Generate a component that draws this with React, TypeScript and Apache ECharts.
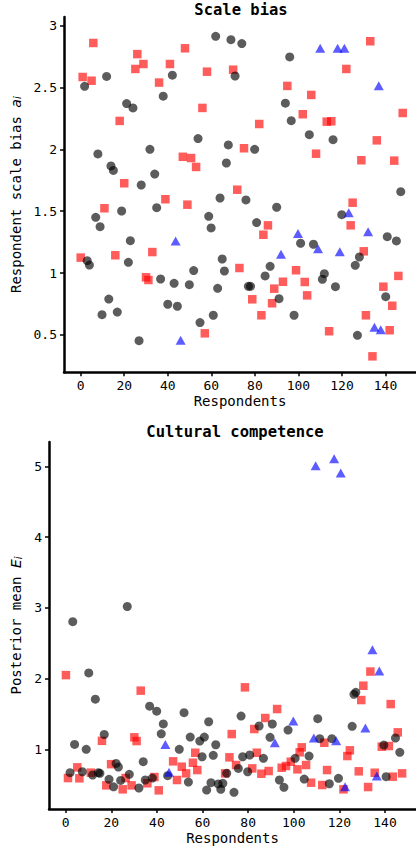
import React, { useEffect, useRef } from "react";
import * as echarts from "echarts";

// ---------- Data (x = respondent index, y = value) ----------
const topBlack: [number, number][] = [
  [1.8, 2.51], [3.0, 1.1], [4.0, 1.065], [6.9, 1.451], [7.9, 1.963], [8.9, 1.375], [9.8, 0.664],
  [11.9, 2.59], [12.9, 0.79], [13.9, 1.866], [15, 1.83], [16.8, 0.685], [18.8, 1.502], [21.1, 2.37],
  [21.9, 1.087], [22.8, 1.262], [24, 2.335], [26.8, 0.454], [27.8, 1.712], [31.8, 2.0], [34, 1.8],
  [34.9, 1.529], [36.7, 0.952], [37.9, 2.43], [40, 0.748], [42.1, 2.6], [42.9, 0.917], [44.4, 0.732],
  [49.9, 0.906], [51.9, 1.02], [53.9, 2.087], [54.8, 0.6], [58.8, 1.459], [59.9, 1.365], [60.9, 0.659],
  [62, 2.914], [62.9, 0.877], [64, 1.607], [65, 1.114], [66, 1.017], [66.9, 1.89], [67.8, 2.036],
  [69, 2.887], [70.9, 2.593], [74, 2.855], [75.9, 1.591], [77, 0.893], [78, 0.893], [79.9, 2.0],
  [80.8, 1.408], [84.7, 0.977], [87, 1.055], [90, 1.532], [91.1, 0.793], [94, 2.373], [96, 2.747],
  [96.7, 2.232], [98, 0.659], [101, 1.241], [105, 2.119], [106.9, 1.233], [111, 0.95], [111.9, 0.995],
  [115.9, 2.078], [117, 0.89], [119.9, 1.472], [126.1, 1.063], [127.1, 0.497], [128, 1.13],
  [140.1, 0.809], [140.8, 1.294], [145, 1.26], [147, 1.658],
];
const topRed: [number, number][] = [
  [0, 1.125], [0.9, 2.585], [5.0, 2.555], [5.8, 2.86], [10.9, 1.524], [15.9, 1.144], [17.9, 2.23],
  [20, 1.726], [25.1, 2.65], [26, 2.77], [28.8, 2.69], [30, 0.966], [31.1, 0.944], [32.9, 1.17],
  [36, 2.54], [38.9, 1.597], [41, 2.69], [46.9, 1.94], [47.9, 2.817], [49, 1.553], [50.7, 1.93],
  [53, 1.858], [55.9, 2.335], [57, 0.513], [58, 2.628], [70, 2.644], [71.9, 1.674], [72.9, 1.041],
  [75, 2.009], [78.8, 0.788], [82, 2.205], [83, 0.659], [83.9, 1.31], [86, 1.386], [87.9, 0.756],
  [88.9, 0.874], [92.9, 0.93], [94.9, 2.513], [98.9, 1.023], [102, 2.284], [102.9, 0.928], [104, 0.82],
  [105.9, 2.44], [108.1, 1.965], [113, 2.224], [114.1, 0.53], [115.1, 2.227], [122, 2.65], [124, 1.386],
  [124.9, 1.569], [128.9, 1.912], [130, 1.176], [131, 0.659], [133, 2.874], [134, 0.327], [136, 2.073],
  [139, 0.89], [141.9, 0.538], [143.1, 0.736], [144, 1.909], [145.9, 0.977], [147.9, 2.294],
];
const topBlue: [number, number][] = [
  [43.6, 1.26], [45.9, 0.457], [92, 1.152], [99.8, 1.32], [109, 1.197], [110, 2.817], [118, 2.817],
  [119, 1.173], [121.1, 2.817], [123.1, 1.488], [132, 1.335], [134.9, 0.562], [136.9, 2.515], [137.8, 0.542],
];

const botBlack: [number, number][] = [
  [1.9, 0.67], [3.1, 2.805], [3.9, 1.07], [7.3, 0.683], [9.0, 1.0], [10.1, 2.08], [11.8, 0.637], [13, 1.71],
  [14.3, 0.67], [15, 0.66], [16.9, 1.21], [19, 0.576], [21, 0.47], [22.1, 0.8], [23.1, 0.75], [24.1, 0.56],
  [27, 3.02], [27.9, 0.646], [32.1, 0.453], [34, 0.825], [34.9, 0.566], [36.8, 1.61], [38, 0.594],
  [39.9, 1.54], [41.9, 1.22], [42.8, 1.36], [44.7, 0.627], [49.8, 1.0], [51.9, 1.518], [53.8, 0.537],
  [54.6, 1.174], [58.8, 1.117], [59.8, 0.895], [60.8, 1.174], [61.8, 0.424], [62.7, 1.39], [63.7, 0.528],
  [64.7, 0.915], [65.8, 1.065], [66.9, 0.51], [68, 0.434], [68.9, 0.519], [70.6, 0.66], [73.8, 0.392],
  [75.7, 0.73], [76.9, 1.47], [77.6, 0.895], [79.8, 0.683], [80.7, 0.92], [84.8, 1.33], [86.7, 0.873],
  [89.6, 1.17], [90.6, 1.358], [93.7, 0.566], [95.7, 0.462], [97.5, 1.273], [100.6, 0.873], [104.6, 0.58],
  [106.7, 0.905], [110.5, 1.433], [111.4, 1.15], [115.6, 0.513], [116.7, 1.15], [119.6, 0.59],
  [125.6, 1.325], [126.4, 1.778], [127.2, 1.806], [139.5, 1.06], [140.5, 0.613], [144.6, 1.16], [146.5, 0.958],
];
const botRed: [number, number][] = [
  [0.1, 2.05], [1, 0.594], [5.1, 0.745], [6, 0.59], [11, 0.67], [15.9, 1.12], [17.8, 0.49], [19.9, 0.79],
  [25, 0.434], [26.3, 0.594], [28.9, 0.49], [30.1, 1.17], [31.1, 1.117], [32.9, 1.83], [35.8, 0.52],
  [38.9, 0.608], [40.8, 0.42], [47.1, 0.83], [48.8, 0.566], [50.9, 0.754], [52.8, 0.66], [55.8, 0.81],
  [56.8, 0.952], [57.7, 0.707], [69.9, 0.66], [71.8, 0.887], [72.8, 1.216], [74.7, 0.778], [78.6, 1.877],
  [81.8, 0.73], [82.7, 1.287], [83.8, 0.952], [85.8, 0.655], [87.5, 1.443], [89, 0.693], [92.7, 1.57],
  [94.7, 0.74], [96.6, 0.764], [98.7, 0.825], [101.6, 0.717], [102.6, 0.958], [103.5, 1.028],
  [105.4, 0.778], [107.6, 0.528], [112.5, 0.495], [113.4, 1.093], [114.6, 0.707], [121.8, 0.434],
  [123.5, 0.905], [124.6, 0.986], [128.5, 0.689], [129.6, 1.697], [130.5, 1.9], [132.6, 0.467],
  [133.6, 2.1], [135.5, 0.669], [138.6, 1.037], [141.7, 1.047], [142.5, 1.64], [143.4, 0.613],
  [145.6, 1.24], [147.5, 0.66],
];
const botBlue: [number, number][] = [
  [43.7, 1.07], [45.3, 0.675], [91.7, 1.093], [99.8, 1.4], [108.8, 1.16], [109.6, 5.01], [117.7, 5.11],
  [118.6, 1.12], [120.6, 4.91], [122.5, 0.47], [131.4, 1.3], [134.5, 2.41], [136.4, 0.622], [137.5, 2.108],
];

const xTicks = [0, 20, 40, 60, 80, 100, 120, 140];
const yTicksTop = [0.5, 1, 1.5, 2, 2.5, 3];
const yTicksBot = [1, 2, 3, 4, 5];

const MONO = "DejaVu Sans Mono";

function axisCommon(ticks: number[]) {
  return {
    type: "value" as const,
    axisLine: { show: true, onZero: false, lineStyle: { color: "#000", width: 2.5 } },
    axisTick: { show: true, length: 4, customValues: ticks, lineStyle: { color: "#000", width: 1.5 } },
    axisLabel: { show: true, customValues: ticks, color: "#000", fontFamily: MONO, fontSize: 13, margin: 7 },
    splitLine: { show: false },
  };
}

const nameRich = {
  n: { fontFamily: MONO, fontSize: 14, color: "#000" },
  m: { fontFamily: "DejaVu Sans", fontStyle: "italic" as const, fontSize: 14, color: "#000" },
  s: { fontFamily: "DejaVu Sans", fontStyle: "italic" as const, fontSize: 10, color: "#000", verticalAlign: "bottom" as const, lineHeight: 12 },
};

export default function App() {
  const ref = useRef<HTMLDivElement>(null);
  useEffect(() => {
    if (!ref.current) return;
    const chart = echarts.init(ref.current, null, { renderer: "svg" });
    const scatter = (data: [number, number][], idx: number, kind: string) => {
      const base: any = {
        type: "scatter",
        xAxisIndex: idx,
        yAxisIndex: idx,
        data,
        silent: true,
        emphasis: { disabled: true },
      };
      if (kind === "k") {
        base.symbol = "circle";
        base.symbolSize = 9;
        base.itemStyle = { color: "rgba(0,0,0,0.8)" };
      } else if (kind === "r") {
        base.symbol = "rect";
        base.symbolSize = 8.5;
        base.itemStyle = { color: "rgba(255,0,0,0.8)" };
      } else {
        base.symbol = "triangle";
        base.symbolSize = [10, 9];
        base.itemStyle = { color: "rgba(0,0,255,0.8)" };
      }
      return base;
    };
    chart.setOption({
      animation: false,
      grid: [
        { left: 64, top: 17, width: 352, height: 355.3 },
        { left: 49, top: 442, width: 367, height: 367 },
      ],
      xAxis: [
        {
          ...axisCommon(xTicks), gridIndex: 0, min: -7.67, max: 154,
          name: "Respondents", nameLocation: "middle", nameGap: 22,
          nameTextStyle: { fontFamily: MONO, fontSize: 14, color: "#000" },
        },
        {
          ...axisCommon(xTicks), gridIndex: 1, min: -7.32, max: 153.6,
          name: "Respondents", nameLocation: "middle", nameGap: 22,
          nameTextStyle: { fontFamily: MONO, fontSize: 14, color: "#000" },
        },
      ],
      yAxis: [
        {
          ...axisCommon(yTicksTop), gridIndex: 0, min: 0.198, max: 3.07,
          name: "{n|Respondent scale bias }{m|a}{s|i}", nameLocation: "middle", nameGap: 35,
          nameTextStyle: { rich: nameRich },
        },
        {
          ...axisCommon(yTicksBot), gridIndex: 1, min: 0.156, max: 5.347,
          name: "{n|Posterior mean }{m|E}{s|i}", nameLocation: "middle", nameGap: 20,
          nameTextStyle: { rich: nameRich },
        },
      ],
      graphic: [
        {
          type: "text", x: 241, y: 10,
          style: { text: "Scale bias", fontFamily: MONO, fontWeight: "bold", fontSize: 15.5, fill: "#000", align: "center", verticalAlign: "middle" },
        },
        {
          type: "text", x: 235, y: 432,
          style: { text: "Cultural competence", fontFamily: MONO, fontWeight: "bold", fontSize: 15.5, fill: "#000", align: "center", verticalAlign: "middle" },
        },
      ],
      series: [
        scatter(topRed, 0, "r"),
        scatter(topBlack, 0, "k"),
        scatter(topBlue, 0, "b"),
        scatter(botRed, 1, "r"),
        scatter(botBlack, 1, "k"),
        scatter(botBlue, 1, "b"),
      ],
    });
    return () => chart.dispose();
  }, []);
  return (
    <div
      ref={ref}
      style={{ position: "fixed", left: 0, top: 0, width: 416, height: 851, background: "#fff" }}
    />
  );
}
